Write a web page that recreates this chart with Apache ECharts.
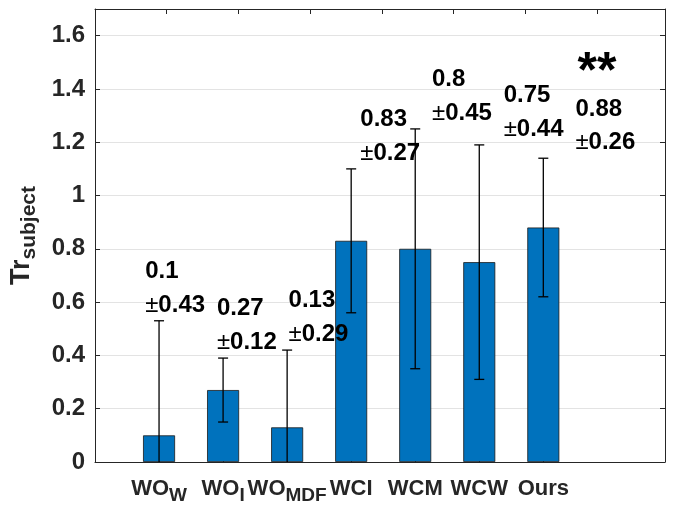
<!DOCTYPE html>
<html>
<head>
<meta charset="utf-8">
<script src="https://cdn.jsdelivr.net/npm/echarts@6/dist/echarts.min.js"></script>
<style>
html,body{margin:0;padding:0;background:#fff;}
#chart{width:674px;height:516px;}
</style>
</head>
<body>
<div id="chart"></div>
<script>
// ---- data ----
const catMain = ['WO', 'WO', 'WO', 'WCI', 'WCM', 'WCW', 'Ours'];
const catSub  = ['W', 'I', 'MDF', '', '', '', ''];
const means   = [0.1, 0.27, 0.13, 0.83, 0.8, 0.75, 0.88];
const stds    = [0.43, 0.12, 0.29, 0.27, 0.45, 0.44, 0.26];
const significance = ['', '', '', '', '', '', '**'];
const yTicks  = [0, 0.2, 0.4, 0.6, 0.8, 1, 1.2, 1.4, 1.6];
const catPos  = [1, 2, 3, 4, 5, 6, 7];

const FONT = "'Liberation Sans', Arial, sans-serif";
const AX = '#262626';

const chart = echarts.init(document.getElementById('chart'));

function catLabel(v) {
  const i = catPos.indexOf(Math.round(v));
  if (i < 0 || Math.abs(v - catPos[i]) > 1e-6) return '';
  return catSub[i] ? '{m|' + catMain[i] + '}{s|' + catSub[i] + '}' : '{m|' + catMain[i] + '}';
}

const option = {
  animation: false,
  backgroundColor: '#fff',
  grid: { left: 95, right: 9, top: 9, bottom: 54, containLabel: false, outerBoundsMode: 'none' },
  xAxis: [
    {
      type: 'value', min: 0, max: 8.9, position: 'bottom',
      axisLine: { show: true, onZero: false, lineStyle: { color: AX, width: 1 } },
      axisTick: { show: true, inside: true, length: 5, customValues: catPos, lineStyle: { color: AX } },
      splitLine: { show: false },
      axisLabel: {
        show: true, customValues: catPos, margin: 16, formatter: catLabel,
        rich: {
          m: { fontFamily: FONT, fontWeight: 'bold', fontSize: 22, color: AX, verticalAlign: 'top', lineHeight: 22 },
          s: { fontFamily: FONT, fontWeight: 'bold', fontSize: 19, color: AX, lineHeight: 19, padding: [14, 0, 0, 0] }
        }
      }
    },
    {
      type: 'value', min: 0, max: 7.95, position: 'top',
      axisLine: { show: true, onZero: false, lineStyle: { color: AX, width: 1 } },
      axisTick: { show: true, inside: true, length: 5, customValues: catPos, lineStyle: { color: AX } },
      axisLabel: { show: false },
      splitLine: { show: false }
    }
  ],
  yAxis: [
    {
      type: 'value', min: 0, max: 1.7, position: 'left',
      name: '{t|Tr}{s|subject}', nameLocation: 'middle', nameRotate: 90, nameGap: 60,
      nameTextStyle: {
        rich: {
          t: { fontFamily: FONT, fontWeight: 'bold', fontSize: 27, color: AX, verticalAlign: 'top', lineHeight: 27 },
          s: { fontFamily: FONT, fontWeight: 'bold', fontSize: 21, color: AX, lineHeight: 21, padding: [16, 0, 0, 0] }
        }
      },
      axisLine: { show: true, onZero: false, lineStyle: { color: AX, width: 1 } },
      axisTick: { show: true, inside: true, length: 5, customValues: yTicks, lineStyle: { color: AX } },
      axisLabel: { customValues: yTicks, margin: 10, fontFamily: FONT, fontWeight: 'bold', fontSize: 24, color: AX },
      splitLine: { show: true, lineStyle: { color: '#e3e3e3', width: 1 } }
    },
    {
      type: 'value', min: 0, max: 1.7, position: 'right',
      axisLine: { show: true, onZero: false, lineStyle: { color: AX, width: 1 } },
      axisTick: { show: true, inside: true, length: 5, customValues: yTicks, lineStyle: { color: AX } },
      axisLabel: { show: false },
      splitLine: { show: false }
    }
  ],
  series: [
    {
      type: 'bar', xAxisIndex: 0, yAxisIndex: 0, barWidth: 32,
      data: means.map((m, i) => [catPos[i], m]),
      itemStyle: { color: '#0072BD', borderColor: '#1a1a1a', borderWidth: 0.8 },
      z: 2
    },
    {
      type: 'custom', xAxisIndex: 0, yAxisIndex: 0, clip: true, z: 3,
      data: means.map((m, i) => [catPos[i], m - stds[i], m + stds[i]]),
      renderItem: function (params, api) {
        const lo = api.coord([api.value(0), api.value(1)]);
        const hi = api.coord([api.value(0), api.value(2)]);
        const w = 5;
        const st = { stroke: '#000', lineWidth: 1.3 };
        return {
          type: 'group',
          children: [
            { type: 'line', shape: { x1: lo[0], y1: lo[1], x2: hi[0], y2: hi[1] }, style: st },
            { type: 'line', shape: { x1: lo[0] - w, y1: lo[1], x2: lo[0] + w, y2: lo[1] }, style: st },
            { type: 'line', shape: { x1: hi[0] - w, y1: hi[1], x2: hi[0] + w, y2: hi[1] }, style: st }
          ]
        };
      }
    },
    {
      type: 'custom', xAxisIndex: 1, yAxisIndex: 0, clip: false, z: 4,
      data: means.map((m, i) => [catPos[i], m + stds[i], m, stds[i]]),
      renderItem: function (params, api) {
        const i = params.dataIndex;
        const p = api.coord([api.value(0) - 0.3, api.value(1)]);
        const children = [{
          type: 'text',
          style: {
            text: String(means[i]) + '\n{pm|±}' + String(stds[i]),
            x: p[0], y: p[1] + 1,
            align: 'left', verticalAlign: 'bottom',
            fontFamily: FONT, fontWeight: 'bold', fontSize: 24, lineHeight: 33.5,
            fill: '#000',
            rich: { pm: { fontFamily: FONT, fontWeight: 'normal', fontSize: 24, lineHeight: 33.5, fill: '#000' } }
          }
        }];
        if (significance[i]) {
          const q = api.coord([api.value(0), 1.5]);
          children.push({
            type: 'text',
            style: {
              text: significance[i], x: q[0], y: q[1] + 11,
              align: 'center', verticalAlign: 'middle',
              fontFamily: FONT, fontWeight: 'bold', fontSize: 50, fill: '#000'
            }
          });
        }
        return { type: 'group', children: children };
      }
    }
  ]
};
chart.setOption(option);
</script>
</body>
</html>
